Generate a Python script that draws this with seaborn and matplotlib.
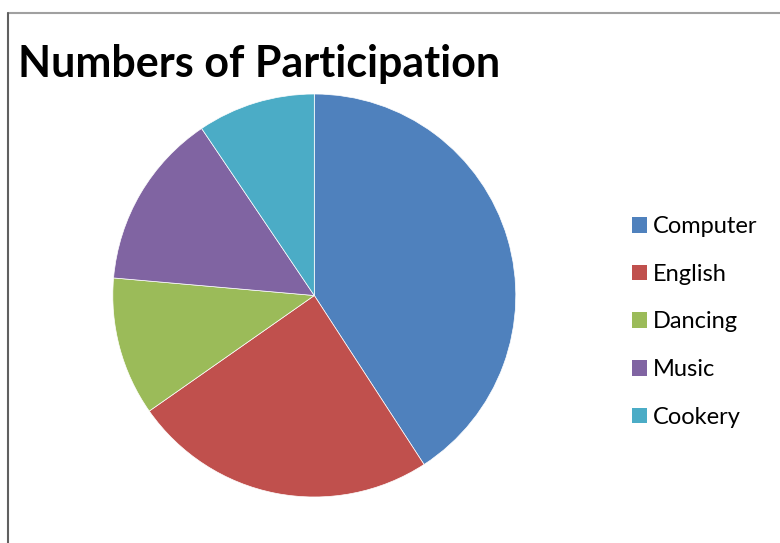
import matplotlib
matplotlib.use("Agg")
import matplotlib.pyplot as plt
import seaborn as sns
from matplotlib.lines import Line2D
from matplotlib.patches import Patch

# ── Data (slice sizes) ────────────────────────────────────────────────────────
activities = ["Computer", "English", "Dancing", "Music", "Cookery"]
participants = [147, 88, 40, 51, 34]
colours = ["#4F81BD", "#C0504D", "#9BBB59", "#8064A2", "#4BACC6"]
title = "Numbers of Participation"

sns.set_theme(style="white")
plt.rcParams["font.family"] = ["Lato", "DejaVu Sans"]
palette = sns.color_palette(colours)

W, H = 780, 543
fig = plt.figure(figsize=(W / 100, H / 100), dpi=100)

# pie axes: centre (314, 295.5) px, radius ~201.5 px
cx, cy, r = 314.3, 295.5, 201.5
ax = fig.add_axes([(cx - r) / W, (H - cy - r) / H, 2 * r / W, 2 * r / H])
wedges, _ = ax.pie(
    participants, colors=palette, startangle=90, counterclock=False,
    radius=1, wedgeprops=dict(edgecolor="white", linewidth=0.5),
)
ax.set_xlim(-1, 1)
ax.set_ylim(-1, 1)
ax.set_aspect("equal")
ax.axis("off")

# title
fig.text(18 / W, (H - 77) / H, title, fontsize=31, fontweight="bold",
         ha="left", va="baseline", color="black")

# legend
handles = [Patch(facecolor=c, edgecolor="none") for c in palette]
fig.legend(handles, activities, loc="center left",
           bbox_to_anchor=(632 / W, (H - 322) / H), frameon=False,
           fontsize=17, labelcolor="black",
           handlelength=0.65, handleheight=0.65,
           handletextpad=0.25, labelspacing=1.13,
           borderpad=0, borderaxespad=0)

# chart frame (only top and left edges visible in the crop)
fig.add_artist(Line2D([8 / W, 1.0], [(H - 13) / H] * 2, color="#a0a0a0",
                      lw=1.5, transform=fig.transFigure))
fig.add_artist(Line2D([8 / W] * 2, [0.0, (H - 13) / H], color="#606060",
                      lw=1.5, transform=fig.transFigure))

fig.savefig("out.png", dpi=100)
plt.close(fig)
